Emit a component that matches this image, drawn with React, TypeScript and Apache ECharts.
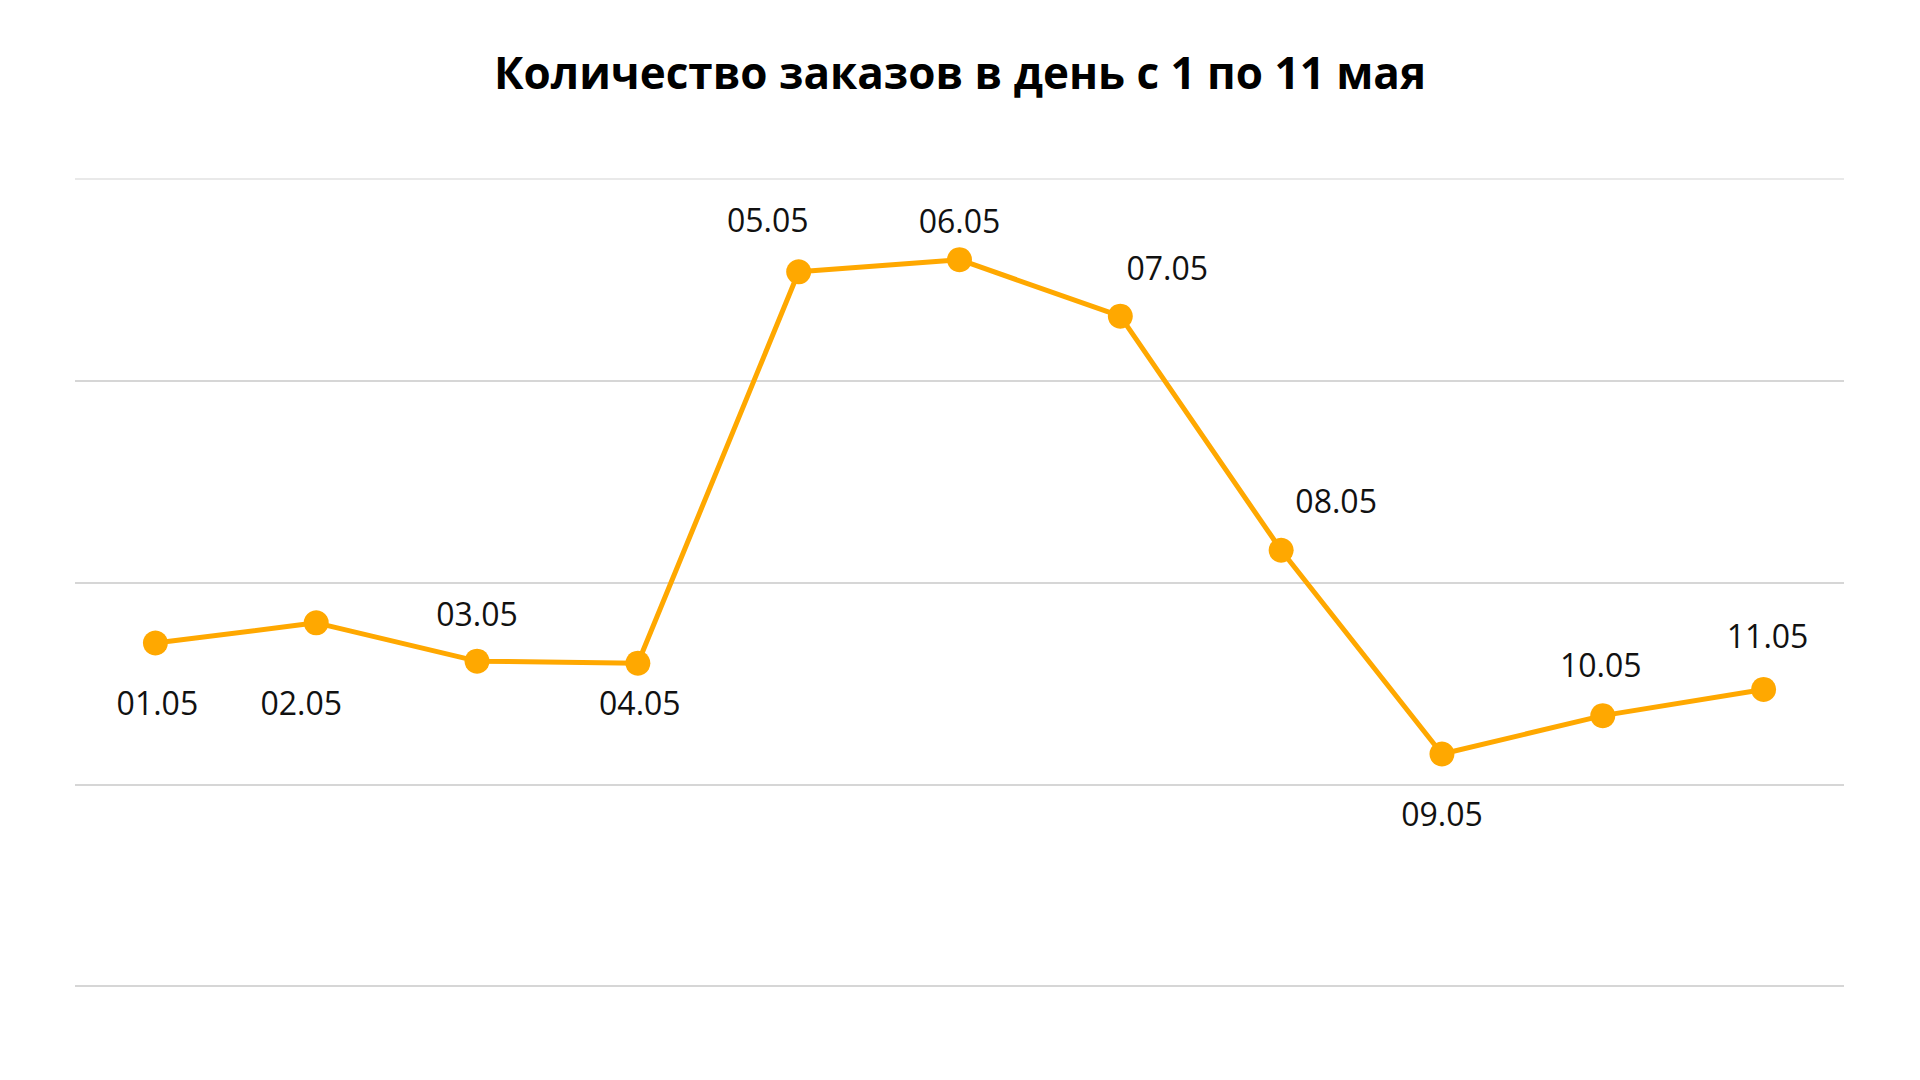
import React, { useEffect, useRef } from "react";
import * as echarts from "echarts";

const categories = ["01.05", "02.05", "03.05", "04.05", "05.05", "06.05", "07.05", "08.05", "09.05", "10.05", "11.05"];
const orders = [170, 180, 161, 160, 354, 360, 332, 216, 115, 134, 147];
// label offsets (px) relative to point centre
const labelOffsets: number[][] = [
  [2, 59], [-15, 80], [0, -48], [2, 39], [-31, -52], [0, -39],
  [47, -49], [55, -50], [0, 60], [-2, -51], [4, -54],
];
const titleText = "Количество заказов в день с 1 по 11 мая";

export default function App() {
  const ref = useRef<HTMLDivElement>(null);
  useEffect(() => {
    document.body.style.margin = "0";
    const chart = echarts.init(ref.current!, undefined, { renderer: "svg" });
    chart.setOption({
      animation: false,
      backgroundColor: "#ffffff",
      title: {
        text: titleText,
        left: "center",
        top: 45,
        textStyle: { fontFamily: "Open Sans", fontWeight: "bold", fontSize: 44, color: "#000000" },
      },
      grid: { left: 75, right: 76, top: 179, bottom: 94 },
      xAxis: {
        type: "category",
        data: categories,
        boundaryGap: true,
        axisLine: { show: false },
        axisTick: { show: false },
        axisLabel: { show: false },
      },
      yAxis: {
        type: "value",
        min: 0,
        max: 400,
        interval: 100,
        axisLabel: { show: false },
        axisLine: { show: false },
        axisTick: { show: false },
        splitLine: { lineStyle: { color: ["#c8c8c8", "#c8c8c8", "#c8c8c8", "#c8c8c8", "#e2e2e2"], width: 1.5 } },
      },
      series: [
        {
          type: "line",
          data: orders.map((v, i) => ({
            value: v,
            label: { offset: labelOffsets[i] },
          })),
          symbol: "circle",
          symbolSize: 25,
          lineStyle: { color: "#FFA800", width: 5 },
          itemStyle: { color: "#FFA800" },
          label: {
            show: true,
            position: "inside",
            formatter: (p: any) => categories[p.dataIndex],
            fontFamily: "Open Sans",
            fontSize: 32,
            color: "#111111",
            align: "center",
            verticalAlign: "middle",
          },
        },
      ],
    });
    return () => chart.dispose();
  }, []);
  return <div ref={ref} style={{ position: "absolute", left: 0, top: 0, width: 1920, height: 1080 }} />;
}
